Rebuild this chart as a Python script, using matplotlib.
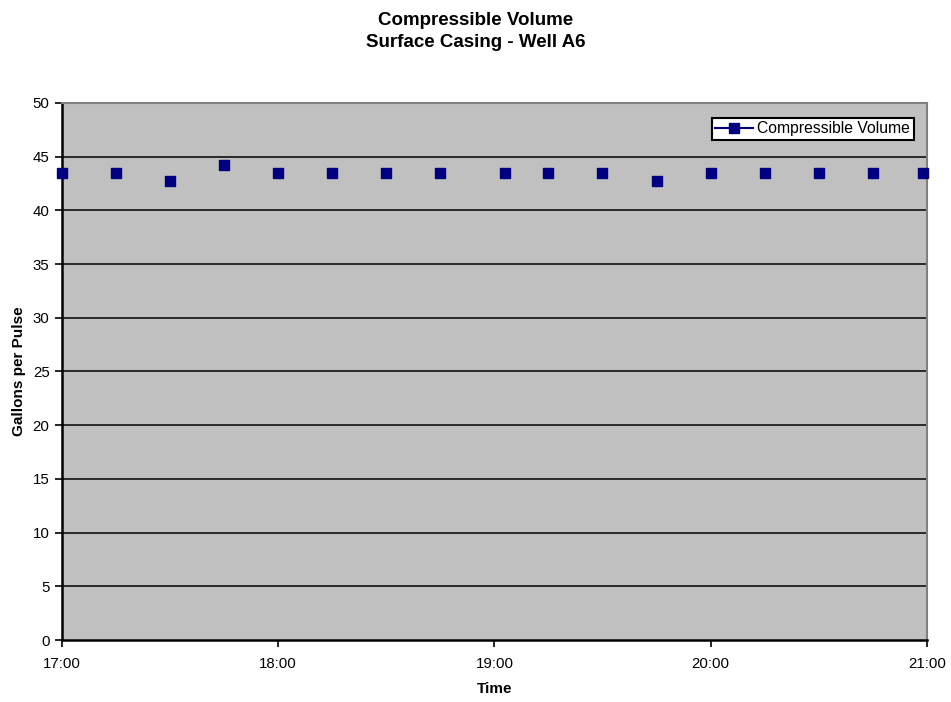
import matplotlib
matplotlib.use("Agg")
import matplotlib.pyplot as plt
import matplotlib.dates as mdates
from matplotlib.lines import Line2D
import pandas as pd

plt.rcParams["font.family"] = ["Liberation Sans", "DejaVu Sans"]

times = ["17:00", "17:15", "17:30", "17:45", "18:00", "18:15", "18:30", "18:45",
         "19:03", "19:15", "19:30", "19:45", "20:00", "20:15", "20:30", "20:45", "20:59"]
volume = [43.5, 43.5, 42.75, 44.25, 43.5, 43.5, 43.5, 43.5,
          43.5, 43.5, 43.5, 42.75, 43.5, 43.5, 43.5, 43.5, 43.5]
x_ticks = ["17:00", "18:00", "19:00", "20:00", "21:00"]

day = "2000-01-01 "
t = pd.to_datetime([day + s for s in times])
tick_t = pd.to_datetime([day + s for s in x_ticks])

fig = plt.figure(figsize=(9.51, 7.02), dpi=100)
ax = fig.add_axes([0.0652, 0.0883, 0.9093, 0.765])
ax.set_facecolor("#c0c0c0")

# horizontal grid, drawn black like the Excel original
for yv in range(5, 50, 5):
    ax.axhline(yv, color="black", linewidth=1.1, zorder=1)

ax.plot(t, volume, linestyle="none", marker="s", markersize=7,
        color="#000080", zorder=3, clip_on=False)

ax.set_xlim(tick_t[0], tick_t[-1])
ax.set_ylim(0, 50)
ax.set_yticks(range(0, 51, 5))
ax.set_xticks(tick_t)
ax.xaxis.set_major_formatter(mdates.DateFormatter("%H:%M"))

for side in ["top", "right"]:
    ax.spines[side].set_color("#808080")
    ax.spines[side].set_linewidth(1.5)
for side in ["left", "bottom"]:
    ax.spines[side].set_color("black")
    ax.spines[side].set_linewidth(1.8)

ax.tick_params(axis="both", direction="out", length=5, width=1.2,
               labelsize=10.8, color="black")
ax.tick_params(axis="x", pad=7.5)
ax.tick_params(axis="y", pad=4)

ax.set_xlabel("Time", fontsize=11, fontweight="bold", labelpad=8)
ax.set_ylabel("Gallons per Pulse", fontsize=11, fontweight="bold", labelpad=5)

fig.text(0.5, 0.9555, "Compressible Volume\nSurface Casing - Well A6",
         ha="center", va="center", fontsize=13.5, fontweight="bold",
         linespacing=1.35)

handle = Line2D([], [], color="#000080", marker="s", markersize=7, linewidth=1.5)
leg = ax.legend([handle], ["Compressible Volume"], loc="upper right",
                bbox_to_anchor=(0.985, 0.972), fontsize=11.3, frameon=True,
                fancybox=False, framealpha=1, edgecolor="black",
                borderpad=0.22, handlelength=2.4, handletextpad=0.3,
                borderaxespad=0.0)
leg.get_frame().set_linewidth(1.5)

fig.savefig("out.png", dpi=100)
